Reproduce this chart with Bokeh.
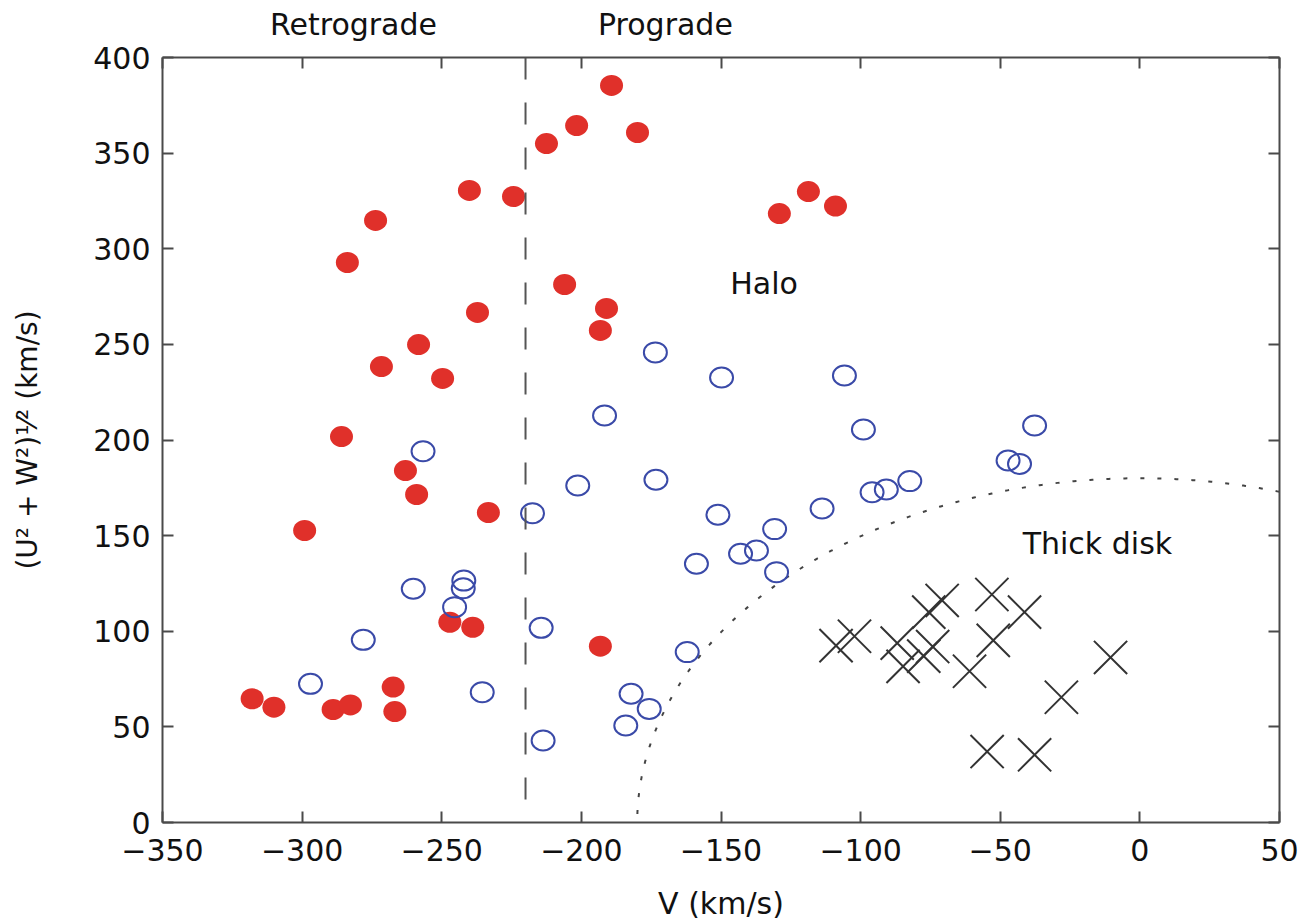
import numpy as np
from bokeh.plotting import figure
from bokeh.models import Range1d, LinearAxis, FixedTicker, Span, Label
from bokeh.embed import file_html
from bokeh.resources import INLINE

# ---------------- data ----------------
# red filled circles
red_v = [-189.2, -201.7, -212.5, -179.9, -240.1, -224.3, -273.7, -283.8, -129.1, -118.7,
         -109.0, -206.0, -191.0, -193.2, -237.2, -258.3, -271.6, -249.7, -285.9, -263.0,
         -259.0, -233.3, -299.1, -247.1, -238.9, -193.2, -317.9, -310.1, -288.9, -282.7,
         -267.4, -266.8]
red_uw = [385.4, 364.4, 355.0, 360.8, 330.5, 327.3, 314.8, 292.8, 318.4, 329.9,
          322.3, 281.3, 268.8, 257.3, 266.7, 249.9, 238.4, 232.2, 201.8, 184.0,
          171.5, 162.1, 152.7, 104.7, 102.1, 92.2, 64.7, 60.3, 59.1, 61.5,
          70.8, 58.0]

# blue open circles
blue_v = [-173.5, -149.8, -105.8, -191.7, -99.0, -37.7, -256.7, -201.3, -173.3, -217.5,
          -151.1, -113.8, -130.8, -143.0, -137.3, -130.1, -158.8, -260.2, -242.1, -242.3,
          -245.4, -214.4, -278.1, -297.0, -235.5, -213.7, -162.1, -182.2, -175.7, -184.1,
          -47.2, -43.1, -95.9, -90.8, -82.4]
blue_uw = [245.8, 232.7, 233.7, 212.8, 205.5, 207.6, 194.1, 176.2, 179.2, 161.7,
           160.9, 164.2, 153.4, 140.5, 142.2, 130.9, 135.3, 122.2, 126.5, 122.5,
           112.6, 101.8, 95.5, 72.5, 68.1, 42.9, 89.1, 67.3, 59.4, 50.7,
           189.3, 187.5, 172.7, 174.1, 178.5]

# crosses (thick disk)
cross_v = [-108.8, -102.2, -86.9, -84.8, -77.4, -74.2, -75.6, -70.8, -53.0, -41.3,
           -52.5, -61.0, -28.1, -10.5, -54.7, -37.7]
cross_uw = [92.5, 97.4, 93.8, 81.6, 87.0, 92.0, 110.0, 116.1, 119.2, 110.0,
            95.2, 79.1, 65.5, 86.3, 37.1, 35.4]

# separating lines
retro_prograde_v = -220          # dashed line
thick_disk_vtot = 180            # |v_total| = 180 km/s boundary (dotted circle)

x_ticks = [-350, -300, -250, -200, -150, -100, -50, 0, 50]
x_tick_labels = ["\u2212350", "\u2212300", "\u2212250", "\u2212200", "\u2212150",
                 "\u2212100", "\u221250", "0", "50"]
y_ticks = [0, 50, 100, 150, 200, 250, 300, 350, 400]
y_tick_labels = ["0", "50", "100", "150", "200", "250", "300", "350", "400"]

top_labels = ["Retrograde", "Prograde"]
top_label_v = [-281.6, -169.9]

region_labels = ["Halo", "Thick disk"]
region_v = [-134.6, -15.2]
region_uw = [282.0, 146.0]

# ---------------- styling ----------------
FONT = "DejaVu Sans"
FS = "30px"
AX_COL = "#4a4a4a"
TXT = "#111111"
RED = "#e0302a"
BLUE = "#3a4aa8"

p = figure(frame_width=1117, frame_height=765,
           x_range=Range1d(-350, 50), y_range=Range1d(0, 400),
           output_backend="svg", toolbar_location=None,
           min_border_left=162, min_border_right=20, min_border_top=57, min_border_bottom=92,
           x_axis_label="V (km/s)",
           y_axis_label="(U\u00b2 + W\u00b2)\u00b9\u2044\u00b2 (km/s)")
p.grid.visible = False
p.outline_line_color = None
p.background_fill_color = "white"
p.border_fill_color = "white"

bottom = p.below[0]
left = p.left[0]
top = LinearAxis()
right = LinearAxis()
p.add_layout(top, "above")
p.add_layout(right, "right")

for ax, ticks, labels in [(bottom, x_ticks, x_tick_labels), (top, x_ticks, x_tick_labels),
                          (left, y_ticks, y_tick_labels), (right, y_ticks, y_tick_labels)]:
    ax.ticker = FixedTicker(ticks=ticks)
    ax.major_label_overrides = {t: l for t, l in zip(ticks, labels)}
    ax.axis_line_color = AX_COL
    ax.axis_line_width = 2
    ax.major_tick_line_color = AX_COL
    ax.major_tick_line_width = 2
    ax.major_tick_in = 11
    ax.major_tick_out = 0
    ax.minor_tick_line_color = None
    ax.major_label_text_font = FONT
    ax.major_label_text_font_size = FS
    ax.major_label_text_color = TXT
    ax.axis_label_text_font = FONT
    ax.axis_label_text_font_size = FS
    ax.axis_label_text_font_style = "normal"
    ax.axis_label_text_color = TXT

for ax in (top, right):
    ax.major_label_text_color = None
    ax.major_label_text_font_size = "1px"
    ax.major_label_standoff = 0

bottom.major_label_standoff = 16
bottom.axis_label_standoff = 22
left.major_label_standoff = 12
left.axis_label_standoff = 46
left.axis_label_text_font_size = "28px"

# "Retrograde" / "Prograde" headings, as a tick-less axis above the box
head = LinearAxis(ticker=FixedTicker(ticks=top_label_v),
                  major_label_overrides={t: l for t, l in zip(top_label_v, top_labels)})
head.axis_line_color = None
head.major_tick_line_color = None
head.major_tick_in = 0
head.major_tick_out = 0
head.minor_tick_line_color = None
head.major_label_standoff = 16
head.major_label_text_font = FONT
head.major_label_text_font_size = FS
head.major_label_text_color = TXT
p.add_layout(head, "above")

# dashed retrograde/prograde divider
p.add_layout(Span(location=retro_prograde_v, dimension="height", line_color="#555555",
                  line_width=2, line_dash="22 23"))

# dotted thick-disk boundary
theta = np.linspace(np.arccos(50 / thick_disk_vtot), np.pi, 400)
p.line(thick_disk_vtot * np.cos(theta), thick_disk_vtot * np.sin(theta),
       line_color="#444444", line_width=2, line_dash="4 13")

# points
p.ellipse(x=red_v, y=red_uw, width=23, height=21, width_units="screen", height_units="screen",
          fill_color=RED, line_color=None)
p.ellipse(x=blue_v, y=blue_uw, width=23, height=20, width_units="screen", height_units="screen",
          fill_color=None, line_color=BLUE, line_width=2)
p.scatter(x=cross_v, y=cross_uw, marker="x", size=47, line_color="#333333", line_width=2)

for t, xv, yv in zip(region_labels, region_v, region_uw):
    p.add_layout(Label(x=xv, y=yv, text=t, text_align="center", text_baseline="alphabetic",
                       text_font=FONT, text_font_size=FS, text_color=TXT))

open("out.html", "w").write(file_html(p, INLINE))
